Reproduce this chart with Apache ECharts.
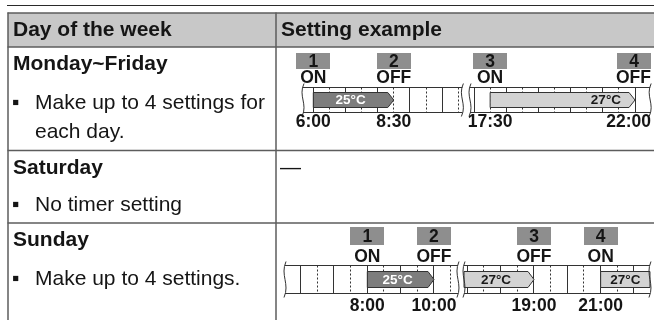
<!DOCTYPE html>
<html><head><meta charset="utf-8">
<script src="https://cdn.jsdelivr.net/npm/echarts@6/dist/echarts.min.js"></script>
<style>html,body{margin:0;padding:0;background:#fff}#c{width:654px;height:320px}</style>
</head><body><div id="c"></div>
<script>
// ---------- table text ----------
const headers = ['Day of the week', 'Setting example'];
const days = ['Monday~Friday', 'Saturday', 'Sunday'];
const notes = ['Make up to 4 settings for\neach day.', 'No timer setting', 'Make up to 4 settings.'];
const saturdaySetting = '\u2014';

// ---------- Monday~Friday timeline ----------
const wkTimes = [6, 8.5, 17.5, 22];
const wkTimeLabels = ['6:00', '8:30', '17:30', '22:00'];
const wkStates = ['ON', 'OFF', 'ON', 'OFF'];
const wkArrowStart = [6, 17.5];
const wkArrowEnd = [8.5, 22];
const wkArrowTemp = [25, 27];

// ---------- Sunday timeline ----------
const suTimes = [8, 10, 19, 21];
const suTimeLabels = ['8:00', '10:00', '19:00', '21:00'];
const suStates = ['ON', 'OFF', 'OFF', 'ON'];
const suArrowStart = [8, null, 21];
const suArrowEnd = [10, 19, null];
const suArrowTemp = [25, 27, 27];

const FONT = "'Liberation Sans', Arial, Helvetica, sans-serif";
const W = 654;
const INK = '#151515';

const layout = {
  week: { top: 87.5, height: 25, pph: 32.2, lefts: [303, 470], segs: [[5.68, 10.63], [16.875, 22.47]],
          boxOff: 26.5, boxH: 16, stateOff: 9, timeOff: 10 },
  sun:  { top: 265.5, height: 28, pph: 33.33, lefts: [285, 464], segs: [[5.53, 10.72], [16.9, 22.48]],
          boxOff: 29.5, boxH: 18, stateOff: 8.5, timeOff: 12.5 }
};

const tempFill = { 25: '#7d7d7d', 27: '#d3d3d3' };
const tempText = { 25: '#ffffff', 27: '#1a1a1a' };

const charW = { '0':.556,'1':.556,'2':.556,'3':.556,'4':.556,'5':.556,'6':.556,'7':.556,'8':.556,'9':.556,':':.333,'O':.778,'N':.722,'F':.611 };
function textW(s, size) { let w = 0; for (const c of s) w += (charW[c] || .6); return w * size; }
function px(v) { return Math.round(v - 0.5) + 0.5; }
function txt(text, x, y, font, fill, align) {
  return { type: 'text', style: { text, x, y, font, fill, align: align || 'center', verticalAlign: 'middle',
           textAlign: align || 'center', textVerticalAlign: 'middle' } };
}

const grids = [], xAxes = [], yAxes = [], series = [];

function stripSeries(gi, seg) {
  return {
    type: 'custom', xAxisIndex: gi, yAxisIndex: gi, clip: false, silent: true, z: 1,
    data: [{ value: [seg[0], seg[1]] }],
    renderItem(params, api) {
      const x0 = api.coord([api.value(0), 1])[0];
      const x1 = api.coord([api.value(1), 1])[0];
      const yT = px(api.coord([seg[0], 1])[1]);
      const yB = px(api.coord([seg[0], 0])[1]);
      const ch = [];
      ch.push({ type: 'rect', shape: { x: x0, y: yT, width: x1 - x0, height: yB - yT }, style: { fill: '#fff' } });
      for (let t = Math.ceil(seg[0] * 2) / 2; t <= seg[1] + 1e-9; t += 0.5) {
        const x = px(api.coord([t, 0])[0]);
        const full = Math.abs(t - Math.round(t)) < 1e-6;
        ch.push({ type: 'line', shape: { x1: x, y1: yT, x2: x, y2: yB },
                  style: { stroke: '#333', lineWidth: 1, lineDash: full ? null : [2, 2] } });
      }
      ch.push({ type: 'line', shape: { x1: x0, y1: yT, x2: x1, y2: yT }, style: { stroke: '#333', lineWidth: 1 } });
      ch.push({ type: 'line', shape: { x1: x0, y1: yB, x2: x1, y2: yB }, style: { stroke: '#333', lineWidth: 1 } });
      return { type: 'group', children: ch };
    }
  };
}

function squiggleSeries(gi, seg) {
  return {
    type: 'custom', xAxisIndex: gi, yAxisIndex: gi, clip: false, silent: true, z: 3,
    data: [{ value: [seg[0]] }, { value: [seg[1]] }],
    renderItem(params, api) {
      const x = api.coord([api.value(0), 0])[0];
      const yT = api.coord([seg[0], 1])[1];
      const yB = api.coord([seg[0], 0])[1];
      const h = yB - yT;
      return { type: 'bezierCurve',
        shape: { x1: x + 1, y1: yT - 4, cpx1: x - 5, cpy1: yT + h * 0.35, cpx2: x + 5, cpy2: yT + h * 0.65, x2: x - 1, y2: yB + 4 },
        style: { stroke: '#333', lineWidth: 1, fill: null } };
    }
  };
}

function arrowSeries(gi, items) {
  return {
    type: 'custom', xAxisIndex: gi, yAxisIndex: gi, clip: false, silent: true, z: 2,
    data: items.map(d => ({ value: [d.s, d.e] })),
    renderItem(params, api) {
      const d = items[params.dataIndex];
      const x0 = api.coord([api.value(0), 0])[0];
      const x1 = api.coord([api.value(1), 0])[0];
      const y0 = px(api.coord([0, 0.8])[1]);
      const y1 = px(api.coord([0, 0.2])[1]);
      const ym = (y0 + y1) / 2;
      const tip = d.openEnd ? 0 : 6;
      const pts = [[x0, y0], [x1 - tip, y0], [x1, ym], [x1 - tip, y1], [x0, y1]];
      const w = x1 - x0;
      let tx, al;
      if (w > 110) { tx = x1 - 14; al = 'right'; } else { tx = (x0 + x1 - tip) / 2; al = 'center'; }
      return { type: 'group', children: [
        { type: 'polygon', shape: { points: pts }, style: { fill: tempFill[d.t], stroke: '#333', lineWidth: 1 } },
        txt(d.t + '\u00B0C', tx, ym + 0.5, 'bold 13.5px ' + FONT, tempText[d.t], al)
      ] };
    }
  };
}

function markerSeries(gi, items, cfg) {
  return {
    type: 'custom', xAxisIndex: gi, yAxisIndex: gi, clip: false, silent: true, z: 4,
    data: items.map(d => ({ value: [d.t] })),
    renderItem(params, api) {
      const d = items[params.dataIndex];
      const x = api.coord([api.value(0), 0])[0];
      const yT = api.coord([0, 1])[1];
      const yB = api.coord([0, 0])[1];
      const clamp = (cx, w) => Math.min(cx, W - 3 - w / 2);
      const bw = 34;
      const bx = clamp(x, bw);
      const f = 'bold 17.5px ' + FONT;
      return { type: 'group', children: [
        { type: 'rect', shape: { x: Math.round(bx - bw / 2), y: Math.round(yT - cfg.boxOff - cfg.boxH / 2), width: bw, height: cfg.boxH },
          style: { fill: '#8e8e8e' } },
        txt(String(d.n), bx, yT - cfg.boxOff + 1, f, INK),
        txt(d.state, clamp(x, textW(d.state, 17.5)), yT - cfg.stateOff, f, INK),
        txt(d.label, clamp(x, textW(d.label, 17.5)), yB + cfg.timeOff, f, INK)
      ] };
    }
  };
}

function addTimeline(cfg, times, labels, states, aStart, aEnd, aTemp) {
  const gIdx = cfg.segs.map((seg, k) => {
    const gi = grids.length;
    grids.push({ left: cfg.lefts[k], top: cfg.top, width: (seg[1] - seg[0]) * cfg.pph, height: cfg.height });
    xAxes.push({ gridIndex: gi, type: 'value', min: seg[0], max: seg[1], show: false });
    yAxes.push({ gridIndex: gi, type: 'value', min: 0, max: 1, show: false });
    return gi;
  });
  cfg.segs.forEach((seg, k) => {
    series.push(stripSeries(gIdx[k], seg));
    const arrows = [];
    aTemp.forEach((t, i) => {
      const s = aStart[i], e = aEnd[i];
      const ref = s != null ? s : e;
      if (ref < seg[0] - 1e-9 || ref > seg[1] + 1e-9) return;
      arrows.push({ s: s != null ? s : seg[0], e: e != null ? e : seg[1], t, openEnd: e == null });
    });
    series.push(arrowSeries(gIdx[k], arrows));
    series.push(squiggleSeries(gIdx[k], seg));
    const marks = [];
    times.forEach((t, i) => {
      if (t >= seg[0] && t <= seg[1]) marks.push({ t, n: i + 1, state: states[i], label: labels[i] });
    });
    series.push(markerSeries(gIdx[k], marks, cfg));
  });
}

addTimeline(layout.week, wkTimes, wkTimeLabels, wkStates, wkArrowStart, wkArrowEnd, wkArrowTemp);
addTimeline(layout.sun, suTimes, suTimeLabels, suStates, suArrowStart, suArrowEnd, suArrowTemp);

// ---------- table frame & text ----------
const BORDER = '#5c5c5c';
const hl = (y, x1, x2, c, w) => ({ type: 'line', shape: { x1, y1: y, x2, y2: y }, style: { stroke: c || BORDER, lineWidth: w || 1.5 } });
const vl = (x, y1, y2) => ({ type: 'line', shape: { x1: x, y1, x2: x, y2 }, style: { stroke: BORDER, lineWidth: 1.5 } });
const gtext = (text, x, y, font, lh) => ({ type: 'text', x, y,
  style: { text, font, fill: INK, textVerticalAlign: 'middle', verticalAlign: 'middle', lineHeight: lh } });
const BOLD = 'bold 21px ' + FONT, REG = '21px ' + FONT;
const dayY = [64.5, 167.8, 240.5];
const noteY = [103.3, 205.5, 278.8];

const graphic = [
  hl(5.5, 7, 654, '#2a2a2a', 1.2),
  { type: 'rect', shape: { x: 8, y: 13, width: 646, height: 34 }, style: { fill: '#c8c8c8' } },
  hl(13, 7.5, 654), hl(47, 7.5, 654), hl(150.5, 7.5, 654), hl(223, 7.5, 654),
  vl(8, 12.5, 320), vl(276, 12.5, 320),
  gtext(headers[0], 13, 30, BOLD), gtext(headers[1], 281, 30, BOLD),
  gtext(saturdaySetting, 280, 168, REG)
];
days.forEach((d, i) => graphic.push(gtext(d, 13, dayY[i], BOLD)));
notes.forEach((n, i) => {
  graphic.push(gtext('\u25AA', 12, noteY[i], REG));
  const lines = n.split('\n');
  lines.forEach((ln, j) => graphic.push(gtext(ln, 35, noteY[i] + j * 28.7, REG)));
});

const chart = echarts.init(document.getElementById('c'), null, { renderer: 'canvas' });
chart.setOption({
  animation: false,
  backgroundColor: '#fff',
  grid: grids, xAxis: xAxes, yAxis: yAxes,
  series,
  graphic: { elements: graphic }
});
</script></body></html>
